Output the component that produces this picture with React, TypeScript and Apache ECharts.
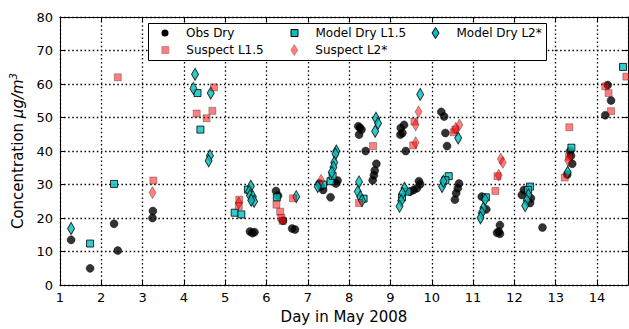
import React, { useEffect, useRef } from 'react';
import * as echarts from 'echarts';

type P = [number, number];

const obsDry: P[] = [
  [1.27, 13.5], [1.73, 5.0], [2.31, 18.3], [2.40, 10.3], [3.25, 22.1], [3.24, 20.0],
  [5.60, 16.0], [5.66, 15.5], [5.71, 15.8],
  [6.23, 28.1], [6.28, 26.7], [6.40, 19.2], [6.62, 16.9], [6.69, 16.6],
  [7.28, 30.3], [7.32, 29.4], [7.37, 28.4], [7.55, 26.2], [7.68, 30.3], [7.72, 31.2],
  [8.22, 47.4], [8.26, 47.0], [8.30, 46.4], [8.24, 44.9], [8.40, 40.0],
  [8.66, 36.2], [8.62, 34.2], [8.60, 32.8], [8.57, 31.3],
  [9.25, 46.9], [9.33, 47.8], [9.29, 45.4], [9.24, 44.9], [9.37, 40.0],
  [9.69, 31.0], [9.72, 30.1], [9.64, 28.9], [9.56, 28.4], [9.48, 27.9],
  [10.23, 51.7], [10.30, 50.3], [10.33, 45.4], [10.37, 41.5],
  [10.66, 30.3], [10.63, 28.9], [10.59, 27.4], [10.56, 25.5],
  [11.21, 26.4], [11.32, 22.6], [11.58, 15.6], [11.65, 17.9], [11.65, 15.3], [11.62, 16.0],
  [12.23, 28.4], [12.18, 26.9], [12.40, 25.9], [12.38, 24.5], [12.68, 17.2],
  [13.35, 40.0], [13.37, 38.6], [13.40, 36.2], [13.28, 33.0],
  [14.26, 59.7], [14.34, 55.1], [14.20, 50.7],
];

const suspectL15: P[] = [
  [2.40, 62.0], [3.26, 31.2], [4.31, 51.2], [4.55, 49.8], [4.69, 52.0], [4.73, 59.0],
  [5.34, 25.5], [5.33, 23.6],
  [6.24, 24.0], [6.33, 21.9], [6.36, 20.1], [6.39, 19.2], [6.64, 25.9],
  [8.58, 41.5], [8.24, 24.5],
  [9.58, 48.8], [9.55, 41.7],
  [10.53, 45.6], [10.57, 46.4],
  [11.54, 28.1], [11.59, 32.5],
  [13.33, 47.1], [13.32, 38.3], [13.22, 32.1],
  [14.20, 59.3], [14.28, 57.3], [14.34, 51.9], [14.71, 62.2],
];

const modelDryL15: P[] = [
  [1.73, 12.4], [2.31, 30.2], [4.33, 57.3], [4.40, 46.4],
  [5.23, 21.6], [5.39, 21.1], [5.55, 28.5],
  [6.25, 26.2],
  [7.37, 30.0], [7.55, 31.0], [7.60, 32.6],
  [8.35, 25.8],
  [9.41, 27.9], [9.28, 26.2],
  [10.41, 32.5], [10.33, 31.3],
  [11.31, 26.2],
  [12.38, 29.4], [12.33, 28.4],
  [13.38, 41.0],
  [14.63, 65.1],
];

const suspectL2: P[] = [
  [3.24, 27.6], [5.33, 24.5], [7.32, 31.3], [9.68, 51.7], [9.61, 47.8], [9.61, 42.5],
  [10.67, 47.8], [10.58, 46.8], [11.67, 37.6], [11.72, 36.6], [11.62, 32.8], [13.30, 37.2],
];

const modelDryL2: P[] = [
  [1.27, 16.9], [4.27, 62.9], [4.23, 58.7], [4.65, 57.3], [4.63, 38.6], [4.60, 37.1],
  [5.62, 29.5], [5.58, 27.9], [5.60, 26.7], [5.67, 26.4], [5.70, 25.0], [5.63, 25.3],
  [6.72, 26.4],
  [7.24, 29.4], [7.69, 40.0], [7.67, 39.1], [7.64, 36.6], [7.62, 35.2], [7.58, 33.7],
  [8.65, 49.8], [8.70, 48.3], [8.63, 45.9],
  [8.24, 30.8], [8.21, 27.9], [8.27, 26.4], [8.31, 25.2],
  [9.72, 56.9], [9.34, 28.9], [9.29, 27.4], [9.26, 25.2], [9.22, 23.5],
  [10.25, 29.4], [10.28, 31.0], [10.64, 43.9],
  [11.29, 25.5], [11.25, 23.0], [11.21, 21.6], [11.18, 20.1],
  [12.34, 26.9], [12.30, 25.3], [12.26, 23.7],
  [13.29, 33.7],
];

const xMin = 1;
const xMax = 14.75;
const yMin = 0;
const yMax = 80;

export default function App() {
  const ref = useRef<HTMLDivElement>(null);
  useEffect(() => {
    const chart = echarts.init(ref.current!, null, { renderer: 'svg', width: 629, height: 329 });
    const font = 'DejaVu Sans';
    const cyan = '#00bfbf';
    const diamondIcon = 'path://M7,0L14,11L7,22L0,11Z';
    const squareIcon = 'path://M0,0L10,0L10,10L0,10Z';
    const circleIcon = 'path://M5,0A5,5,0,1,1,5,10A5,5,0,1,1,5,0Z';
    const mkLegend = (name: string, cx: number, cy: number, w: number, h: number, icon: string, itemStyle: any) => ({
      data: [{ name, icon, itemStyle }],
      left: cx - w / 2, top: cy - 7, padding: 0, itemWidth: w, itemHeight: h,
      selectedMode: false, z: 5,
      textStyle: { fontFamily: font, fontSize: 12, color: '#000', lineHeight: 14, padding: [0, 0, 0, 21 - w / 2 - 5] },
    });
    const blackStyle = { color: '#000', borderColor: '#000', borderWidth: 0, opacity: 1 };
    const cyanStyle = { color: cyan, borderColor: '#000', borderWidth: 1, opacity: 1 };
    const pinkStyle = { color: '#f58080', borderColor: '#c06060', borderWidth: 0.6, opacity: 1 };
    const tickCommon = { show: true, inside: true, length: 5, lineStyle: { color: '#000', width: 1 } };
    const lineCommon = { show: true, onZero: false, lineStyle: { color: '#000', width: 1 } };
    const splitCommon = { show: true, lineStyle: { color: '#000', width: 1.3, type: [1.5, 2.6] as any } };
    const option: any = {
      animation: false,
      backgroundColor: '#fff',
      grid: { left: 58, right: 1, top: 17, bottom: 38, containLabel: false },
      xAxis: [
        {
          type: 'value', min: xMin, max: xMax, interval: 1, position: 'bottom',
          axisLine: lineCommon, axisTick: tickCommon, splitLine: splitCommon,
          axisLabel: { fontFamily: font, fontSize: 13, color: '#000', margin: 6, showMaxLabel: false },
          name: 'Day in May 2008', nameLocation: 'middle', nameGap: 22,
          nameTextStyle: { fontFamily: font, fontSize: 15, color: '#000' },
        },
        {
          type: 'value', min: xMin, max: xMax, interval: 1, position: 'top',
          axisLine: lineCommon, axisTick: tickCommon, splitLine: { show: false },
          axisLabel: { show: false },
        },
      ],
      yAxis: [
        {
          type: 'value', min: yMin, max: yMax, interval: 10, position: 'left',
          axisLine: lineCommon, axisTick: tickCommon, splitLine: splitCommon,
          axisLabel: { fontFamily: font, fontSize: 13, color: '#000', margin: 7 },
          name: '{a|Concentration }{b|μg/m}{c|3}', nameLocation: 'middle', nameGap: 27, nameRotate: 90,
          nameTextStyle: {
            fontFamily: font, fontSize: 15, color: '#000',
            rich: {
              a: { fontFamily: font, fontSize: 15, color: '#000', lineHeight: 20 },
              b: { fontFamily: font, fontSize: 15, color: '#000', fontStyle: 'italic', lineHeight: 20 },
              c: { fontFamily: font, fontSize: 10, color: '#000', fontStyle: 'italic', verticalAlign: 'top' },
            },
          },
        },
        {
          type: 'value', min: yMin, max: yMax, interval: 10, position: 'right',
          axisLine: lineCommon, axisTick: tickCommon, splitLine: { show: false },
          axisLabel: { show: false },
        },
      ],
      legend: [
        mkLegend('Obs Dry', 165, 33, 7, 7, circleIcon, blackStyle),
        mkLegend('Suspect L1.5', 165, 50, 7, 7, squareIcon, pinkStyle),
        mkLegend('Model Dry L1.5', 294, 33, 7, 7, squareIcon, cyanStyle),
        mkLegend('Suspect L2*', 294, 50, 7, 11, diamondIcon, pinkStyle),
        mkLegend('Model Dry L2*', 435, 33, 7, 11, diamondIcon, cyanStyle),
      ],
      graphic: [
        {
          type: 'rect', z: 4,
          shape: { x: 148.5, y: 23.5, width: 398, height: 37 },
          style: { fill: '#fff', stroke: '#000', lineWidth: 1 },
        },
      ],
      series: [
        {
          name: 'Obs Dry', type: 'scatter', data: obsDry, symbol: 'circle', symbolSize: 8,
          itemStyle: { color: '#000', borderColor: '#000', borderWidth: 0.5 }, z: 2,
        },
        {
          name: 'Model Dry L1.5', type: 'scatter', data: modelDryL15, symbol: 'rect', symbolSize: 7,
          itemStyle: { color: cyan, borderColor: '#000', borderWidth: 1 }, z: 2,
        },
        {
          name: 'Model Dry L2*', type: 'scatter', data: modelDryL2, symbol: 'diamond', symbolSize: [7, 12],
          itemStyle: { color: cyan, borderColor: '#000', borderWidth: 1 }, z: 2,
        },
        {
          name: 'Suspect L1.5', type: 'scatter', data: suspectL15, symbol: 'rect', symbolSize: 7,
          itemStyle: { color: '#ff0000', borderColor: '#000', borderWidth: 0.6, opacity: 0.5 }, z: 2,
        },
        {
          name: 'Suspect L2*', type: 'scatter', data: suspectL2, symbol: 'diamond', symbolSize: [7, 12],
          itemStyle: { color: '#ff0000', borderColor: '#000', borderWidth: 0.6, opacity: 0.5 }, z: 2,
        },
      ],
    };
    chart.setOption(option);
    return () => chart.dispose();
  }, []);
  return (
    <div
      ref={ref}
      style={{ position: 'fixed', left: 0, top: 0, width: 629, height: 329, background: '#fff' }}
    />
  );
}
